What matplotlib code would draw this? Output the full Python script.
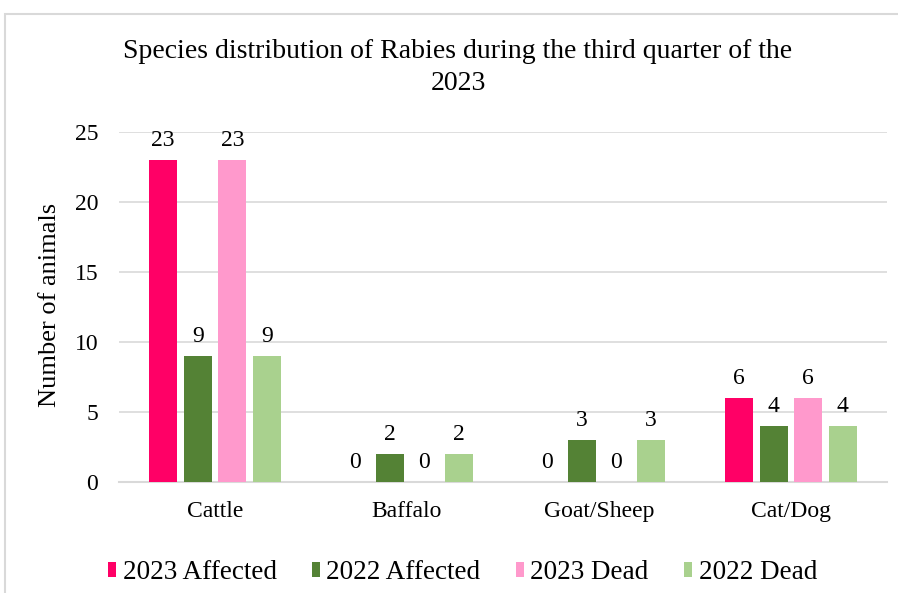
import matplotlib.pyplot as plt
import numpy as np
from matplotlib.patches import Rectangle

# species on the x axis and the four series
species = ["Cattle", "Baffalo", "Goat/Sheep", "Cat/Dog"]
series_names = ["2023 Affected", "2022 Affected", "2023 Dead", "2022 Dead"]
affected_2023 = [23, 0, 0, 6]
affected_2022 = [9, 2, 3, 4]
dead_2023 = [23, 0, 0, 6]
dead_2022 = [9, 2, 3, 4]
colors = ["#FF0066", "#548235", "#FF99CC", "#A9D18E"]
yticks = [0, 5, 10, 15, 20, 25]

plt.rcParams['font.family'] = ['Liberation Serif', 'DejaVu Serif']

fig = plt.figure(figsize=(8.98, 5.93), dpi=100)
ax = fig.add_axes([0.1325, 0.1872, 0.8553, 0.5902])

# thin grey frame round the chart area
fig.patches.append(Rectangle((4.5 / 898, -0.05), 1.1, 1 - 13.5 / 593 + 0.05,
                             transform=fig.transFigure, fill=False,
                             edgecolor="#D9D9D9", linewidth=1.5))

x = np.arange(len(species))
width = 0.145
step = 0.18
all_series = [affected_2023, affected_2022, dead_2023, dead_2022]
for i, (vals, name, c) in enumerate(zip(all_series, series_names, colors)):
    pos = x + (i - 1.5) * step
    bars = ax.bar(pos, vals, width, color=c, label=name, zorder=3)
    for b, v in zip(bars, vals):
        ax.annotate(str(v), (b.get_x() + b.get_width() / 2, v),
                    xytext=(0, 6.5), textcoords="offset points",
                    ha="center", va="bottom", fontsize=17)

ax.set_xlim(-0.5, 3.5)
ax.set_ylim(0, 25)
ax.set_yticks(yticks)
ax.set_xticks(x)
ax.set_xticklabels(species)
ax.tick_params(axis="both", length=0, labelsize=17)
ax.tick_params(axis="x", pad=14)
ax.tick_params(axis="y", pad=15)
ax.grid(axis="y", color="#D9D9D9", linewidth=1.2, zorder=0)
for s in ["top", "right", "left"]:
    ax.spines[s].set_visible(False)
ax.spines["bottom"].set_color("#D9D9D9")
ax.spines["bottom"].set_linewidth(1.5)

ax.set_ylabel("Number of animals", fontsize=19, va="center")
ax.yaxis.set_label_coords(-0.09, 0.506)
fig.text(0.51, 0.886, "Species distribution of Rabies during the third quarter of the\n2023",
         ha="center", va="center", fontsize=20, linespacing=1.4)

ax.legend(loc="center", bbox_to_anchor=(0.515, 0.034), bbox_transform=fig.transFigure,
          ncol=4, frameon=False, fontsize=19.5, handlelength=0.29, handleheight=0.5,
          handletextpad=0.25, columnspacing=1.3)

fig.savefig("out.png", dpi=100)
